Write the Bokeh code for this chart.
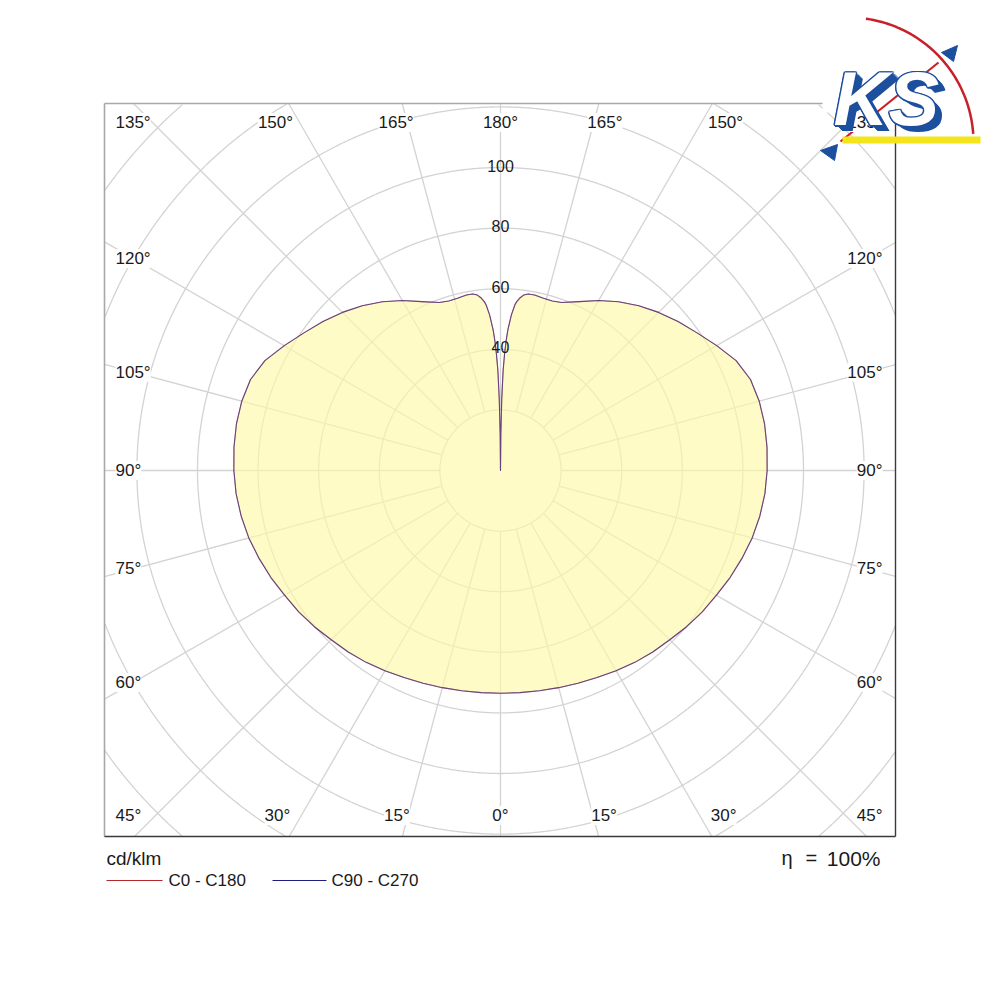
import numpy as np
from bokeh.plotting import figure
from bokeh.models import Range1d, Label
from bokeh.embed import file_html
from bokeh.resources import INLINE

# ---------------- data ----------------
gamma = [0, 5, 10, 15, 20, 25, 30, 35, 40, 45, 50, 55, 60, 65, 70, 75, 80, 85,
         90, 95, 100, 105, 110, 115, 120, 125, 130, 135, 140, 145, 150, 155,
         160, 163, 166, 169, 171, 172.5, 173.5, 174.5, 175, 176, 177, 177.5,
         178, 178.5, 179, 179.5, 180]
c0_c180 = [73.5, 73.6, 73.8, 74.2, 74.7, 75.4, 76.3, 77.3, 78.2, 79.0, 80.2,
           81.3, 82.3, 83.6, 84.8, 86.0, 86.9, 87.6,
           88.0, 88.3, 88.5, 88.4, 87.8, 85.8, 82.4, 79.2, 76.5, 73.8, 71.0,
           68.0, 64.8, 61.5,
           59.0, 58.5, 58.6, 59.0, 59.0, 58.4, 57.4, 56.0, 55.0, 51.5, 46.5,
           43.0, 38.5, 33.0, 23.5, 12.0, 0.0]
c90_c270 = [73.5, 73.6, 73.8, 74.2, 74.7, 75.4, 76.3, 77.3, 78.2, 79.0, 80.2,
            81.3, 82.3, 83.6, 84.8, 86.0, 86.9, 87.6,
            88.0, 88.3, 88.5, 88.4, 87.8, 85.8, 82.4, 79.2, 76.5, 73.8, 71.0,
            68.0, 64.8, 61.5,
            59.0, 58.5, 58.6, 59.0, 59.0, 58.4, 57.4, 56.0, 55.0, 51.5, 46.5,
            43.0, 38.5, 33.0, 23.5, 12.0, 0.0]
ring_values = [20, 40, 60, 80, 100, 120, 140, 160, 180]
ring_labels = [40, 60, 80, 100]
spoke_angles = list(range(0, 360, 15))
unit_label = "cd/klm"
eta_symbol = "\u03b7"
eta_equals = "="
eta_value = "100%"
series_names = ["C0 - C180", "C90 - C270"]
series_colors = ["#b3262b", "#1e1e80"]

FONT = "Liberation Sans"
GRID = "#d3d3d3"

# ---------------- geometry helpers (page pixels -> data) ----------------
S = 3.03            # pixels per cd/klm
CX, CY = 500.0, 470.0


def X(px):
    return (px - CX) / S


def Y(py):
    return (CY - py) / S


W, H = 992, 920
p = figure(width=W, height=H,
           x_range=Range1d(X(0), X(W)), y_range=Range1d(Y(H), Y(0)),
           x_axis_type=None, y_axis_type=None,
           output_backend="svg", toolbar_location=None, min_border=0)
p.grid.visible = False
p.outline_line_color = None
p.background_fill_color = "white"
p.border_fill_color = "white"

L, R, T, B = X(104), X(895), Y(103), Y(836)

# ---------------- polar grid ----------------
t = np.radians(np.arange(0, 360.25, 0.25))
for rv in ring_values:
    xs = rv * np.sin(t)
    ys = rv * np.cos(t)
    outside = (xs < L) | (xs > R) | (ys > T) | (ys < B)
    xs = np.where(outside, np.nan, xs)
    ys = np.where(outside, np.nan, ys)
    p.line(xs, ys, line_color=GRID, line_width=1.3)

x0s, y0s, x1s, y1s = [], [], [], []
for a in spoke_angles:
    ar = np.radians(a)
    dx, dy = np.sin(ar), -np.cos(ar)
    lim = []
    if dx > 1e-9:
        lim.append(R / dx)
    if dx < -1e-9:
        lim.append(L / dx)
    if dy > 1e-9:
        lim.append(T / dy)
    if dy < -1e-9:
        lim.append(B / dy)
    te = min(lim)
    x0s.append(ring_values[0] * dx)
    y0s.append(ring_values[0] * dy)
    x1s.append(te * dx)
    y1s.append(te * dy)
p.segment(x0s, y0s, x1s, y1s, line_color=GRID, line_width=1.3)

# ---------------- luminous intensity curve ----------------
g = np.radians(np.array(gamma))


def closed_curve(vals):
    r = np.array(vals, dtype=float)
    xr = r * np.sin(g)
    yr = -r * np.cos(g)
    xs = np.concatenate([xr, -xr[::-1]])
    ys = np.concatenate([yr, yr[::-1]])
    return xs, ys


fx, fy = closed_curve(c0_c180)
p.patch(fx, fy, fill_color="#fff9aa", fill_alpha=0.66, line_color=None)
for vals, col in zip([c0_c180, c90_c270], series_colors):
    cx_, cy_ = closed_curve(vals)
    p.line(cx_, cy_, line_color=col, line_width=1.1, line_alpha=0.6,
           line_join="round")

# ---------------- frame ----------------
p.segment([L, L], [B, T], [L, R], [T, T], line_color="#a8a8a8", line_width=1.6)
p.segment([R, L], [T, B], [R, R], [B, B], line_color="#3a3a3a", line_width=1.4)


# ---------------- labels ----------------
def add_label(x, y, text, align="center", size="17px", bg="white", baseline="middle",
              color="#1a1a1a", style="normal", font=FONT):
    p.add_layout(Label(x=x, y=y, text=text, text_align=align, text_baseline=baseline,
                       text_font=font, text_font_size=size, text_color=color,
                       text_font_style=style,
                       background_fill_color=bg,
                       background_fill_alpha=1.0 if bg else 0.0))


top_row_y, bot_row_y = 122.0, 815.0
left_x, right_x = 115.0, 882.0
for a in range(0, 181, 15):
    txt = f"{a}\u00b0"
    ar = np.radians(a)
    for side in (-1, 1):
        if a in (0, 180) and side == 1:
            continue
        if a <= 45 or a >= 135:
            row_y = bot_row_y if a <= 45 else top_row_y
            dyp = abs(row_y - CY)
            off = 1.12 * dyp * abs(np.tan(ar))
            xc = CX + side * off
            if a in (45, 135):
                if side < 0:
                    add_label(X(left_x), Y(row_y), txt, align="left")
                else:
                    add_label(X(right_x), Y(row_y), txt, align="right")
            else:
                add_label(X(xc), Y(row_y), txt, align="center")
        else:
            dxp = abs(CX - 133.0)
            yc = CY - dxp * (-np.cos(ar)) / np.sin(ar)
            if side < 0:
                add_label(X(left_x), Y(yc), txt, align="left")
            else:
                add_label(X(right_x), Y(yc), txt, align="right")

for rv in ring_labels:
    add_label(0, rv + 0.6, str(rv), align="center", size="16px", bg=None)

# ---------------- texts below ----------------
add_label(X(106), Y(858), unit_label, align="left", size="19px", bg=None)
add_label(X(781), Y(857), eta_symbol, align="left", size="20px", bg=None)
add_label(X(805), Y(857), eta_equals, align="left", size="20px", bg=None)
add_label(X(880), Y(858), eta_value, align="right", size="21px", bg=None)

leg_y = Y(880)
p.segment([X(106)], [leg_y], [X(162)], [leg_y], line_color=series_colors[0], line_width=1.2)
add_label(X(168), leg_y, series_names[0], align="left", size="17px", bg=None)
p.segment([X(272)], [leg_y], [X(326)], [leg_y], line_color=series_colors[1], line_width=1.2)
add_label(X(331), leg_y, series_names[1], align="left", size="17px", bg=None)

# ---------------- KS logo ----------------
BLUE = "#1d4f9f"
p.quad(left=[X(822)], right=[X(986)], top=[Y(15)], bottom=[Y(112)],
       fill_color="white", line_color=None)
arc_t = np.radians(np.linspace(4, 82, 80))
p.line(X(848) + (125 / S) * np.cos(arc_t), Y(142) + (125 / S) * np.sin(arc_t),
       line_color="#c8202a", line_width=2.5)
p.line([X(840), X(938)], [Y(141), Y(62)], line_color="#c8202a", line_width=2.2)
p.patch([X(957), X(941), X(953)], [Y(45), Y(52), Y(61)], fill_color=BLUE, line_color=BLUE)
p.patch([X(820), X(837), X(834)], [Y(150), Y(144), Y(160)], fill_color=BLUE, line_color=BLUE)
p.quad(left=[X(842)], right=[X(980)], top=[Y(136)], bottom=[Y(143)],
       fill_color="#f3e41c", line_color=None)
KS_X, KS_Y = 833.0, 98.0
for k in range(1, 8):
    add_label(X(KS_X + k), Y(KS_Y + 0.8 * k), "KS", align="left", size="76px", bg=None,
              color=BLUE, style="bold italic")
for ddx, ddy in [(-1.5, 0), (1.5, 0), (0, -1.5), (0, 1.5), (-1, -1), (1, 1), (-1, 1), (1, -1)]:
    add_label(X(KS_X + ddx), Y(KS_Y + ddy), "KS", align="left", size="76px", bg=None,
              color=BLUE, style="bold italic")
add_label(X(KS_X), Y(KS_Y), "KS", align="left", size="76px", bg=None,
          color="white", style="bold italic")

open("out.html", "w").write(file_html(p, INLINE))
